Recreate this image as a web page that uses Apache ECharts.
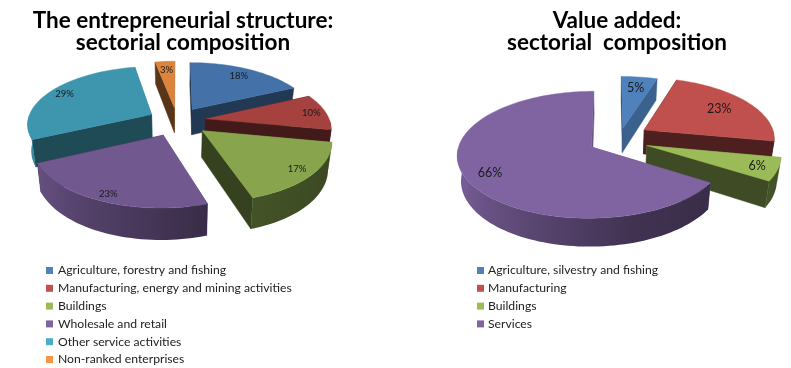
<!DOCTYPE html>
<html><head><meta charset="utf-8">
<style>html,body{margin:0;padding:0;background:#fff}#c{width:791px;height:368px}</style>
<script src="https://cdn.jsdelivr.net/npm/echarts@6/dist/echarts.min.js"></script>
</head><body><div id="c"></div>
<script>
const categoriesLeft=['Agriculture, forestry and fishing','Manufacturing, energy and mining activities','Buildings','Wholesale and retail','Other service activities','Non-ranked enterprises'];
const valuesLeft=[18,10,17,23,29,3];
const categoriesRight=['Agriculture, silvestry and fishing','Manufacturing','Buildings','Services'];
const valuesRight=[5,23,6,66];
const legendColors=['#4F81BD','#C0504D','#9BBB59','#8064A2','#4BACC6','#F79646'];

const pieLeft={cx:177,cy:120.5,fx:124,fy:57,k:0.15,h:26,labelR:[.82,.88,.88,.9,.86,.8],font:9.5,
  colors:['#4472A8','#A5413F','#88A54E','#71588F','#3D96AE','#DB843D'],
  explode:[.234,.234,.265,.27,.234,.234],tilt:[0,0,0,0,0,0]};
const pieRight={cx:611,cy:139,fx:131,fy:60.6,k:0.12,h:24.5,labelR:[.76,.72,.85,.82],font:12.5,
  colors:['#4F81BD','#C0504D','#9BBB59','#8064A2'],
  explode:[.2,.3,.29,.196],tilt:[18,0,0,-13]};

function hexRgb(c){return [1,3,5].map(i=>parseInt(c.substr(i,2),16));}
function shade(c,f){return 'rgb('+hexRgb(c).map(v=>Math.round(v*f)).join(',')+')';}
function lerpTable(t,x){
  if(x<=t[0][0])return t[0][1];
  for(let i=1;i<t.length;i++){if(x<=t[i][0]){const a=t[i-1],b=t[i];return a[1]+(b[1]-a[1])*(x-a[0])/(b[0]-a[0]);}}
  return t[t.length-1][1];
}
const edgeShade=[[90,.8],[108,.75],[155,.5],[190,.4],[270,.4]];
const rimShade=[[90,.4],[162,.5],[245,.92],[270,1]];

function sliceSeries(pie,name,value,cum,idx){
  const a0=cum*3.6,a1=(cum+value)*3.6,mid=(a0+a1)/2,rad=d=>d*Math.PI/180;
  const e=pie.explode[idx],dir=rad(mid+pie.tilt[idx]);
  const ox=e*Math.sin(dir),oy=e*Math.cos(dir);
  const proj=(X,Y,low)=>{
    const s=1/(1+pie.k*Y),b=low?0.975:1;
    return [pie.cx+pie.fx*X*s*b,pie.cy-pie.fy*Y*s+(low?pie.h*s:0)];
  };
  const at=(a,r)=>[ox+r*Math.sin(rad(a)),oy+r*Math.cos(rad(a))];
  const color=pie.colors[idx];
  return {
    type:'custom',name:name,coordinateSystem:'none',silent:true,animation:false,
    itemStyle:{color:color},data:[[value,cum]],
    _depth:oy,
    renderItem:function(params,api){
      const val=api.value(0);
      const a=api.value(1)*3.6,b=(api.value(1)+val)*3.6;
      const n=Math.max(2,Math.ceil((b-a)/2));
      const kids=[];
      const apex=[ox,oy];
      const quad=(p,q,f)=>{
        const pts=[proj(p[0],p[1],false),proj(q[0],q[1],false),proj(q[0],q[1],true),proj(p[0],p[1],true)];
        const fill=shade(color,f);
        kids.push({type:'polygon',shape:{points:pts},style:{fill:fill,stroke:fill,lineWidth:.5}});
      };
      // the radial walls, far one first
      const walls=[{p:at(a,1),n:((a-90)+360)%360},{p:at(b,1),n:(b+90)%360}];
      walls.sort((u,v)=>v.p[1]-u.p[1]);
      walls.forEach(w=>quad(apex,w.p,lerpTable(edgeShade,w.n)));
      // the outer rim, only where it faces the viewer, shaded by a horizontal gradient
      const rimA=[];
      for(let i=0;i<=n;i++){const t=a+(b-a)*i/n,m=t%360;if(m>=90&&m<=270)rimA.push(t);}
      if(rimA.length>1){
        const upper=rimA.map(t=>{const p=at(t,1);return proj(p[0],p[1],false);});
        const lower=rimA.map(t=>{const p=at(t,1);return proj(p[0],p[1],true);});
        const xs=upper.map(p=>p[0]).concat(lower.map(p=>p[0]));
        const x0=Math.min.apply(null,xs),x1=Math.max.apply(null,xs),w=Math.max(1,x1-x0);
        const stops=rimA.map((t,i)=>({offset:Math.min(1,Math.max(0,(upper[i][0]-x0)/w)),color:shade(color,lerpTable(rimShade,t%360))}));
        stops.sort((u,v)=>u.offset-v.offset);
        const fill=new echarts.graphic.LinearGradient(x0,0,x1,0,stops,true);
        kids.push({type:'polygon',shape:{points:upper.concat(lower.reverse())},style:{fill:fill}});
      }
      // top surface
      const top=[proj(apex[0],apex[1],false)];
      for(let i=0;i<=n;i++){const p=at(a+(b-a)*i/n,1);top.push(proj(p[0],p[1],false));}
      kids.push({type:'polygon',shape:{points:top},style:{fill:color,stroke:color,lineWidth:.4}});
      const lp=at((a+b)/2,pie.labelR[idx]),l=proj(lp[0],lp[1],false);
      kids.push({type:'text',x:l[0],y:l[1],style:{text:val+'%',fill:'#1a1a1a',align:'center',verticalAlign:'middle',
        font:pie.font+'px Lato, sans-serif'}});
      return {type:'group',children:kids};
    }
  };
}
function pieSeries(pie,cats,vals){
  let cum=0;
  const out=vals.map((v,i)=>{const s=sliceSeries(pie,cats[i],v,cum,i);cum+=v;return s;});
  out.sort((x,y)=>y._depth-x._depth);
  out.forEach(s=>delete s._depth);
  return out;
}
const titleStyle={fontFamily:'Lato,sans-serif',fontWeight:'bold',fontSize:22.5,lineHeight:22,color:'#000'};
const legendText={fontFamily:'Lato,sans-serif',fontSize:12.2,color:'#222',lineHeight:14};
function legend(cats,left,gap){
  return {orient:'vertical',left:left,top:263.5,height:120,padding:0,itemWidth:7,itemHeight:7,itemGap:3.8,icon:'rect',selectedMode:false,
    textStyle:Object.assign({},legendText,{padding:[0,0,0,gap-5]}),
    data:cats.map((c,i)=>({name:c,itemStyle:{color:legendColors[i],borderWidth:0}}))};
}
const chart=echarts.init(document.getElementById('c'),null,{renderer:'canvas'});
chart.setOption({
  backgroundColor:'#fff',animation:false,
  title:[
    {text:'The entrepreneurial structure:\nsectorial composition',left:183,top:10,padding:0,textAlign:'center',textStyle:titleStyle},
    {text:'Value added:\nsectorial  composition',left:617,top:10,padding:0,textAlign:'center',textStyle:titleStyle}
  ],
  legend:[legend(categoriesLeft,46,5),legend(categoriesRight,477,4)],
  series:pieSeries(pieLeft,categoriesLeft,valuesLeft).concat(pieSeries(pieRight,categoriesRight,valuesRight))
});
</script></body></html>
